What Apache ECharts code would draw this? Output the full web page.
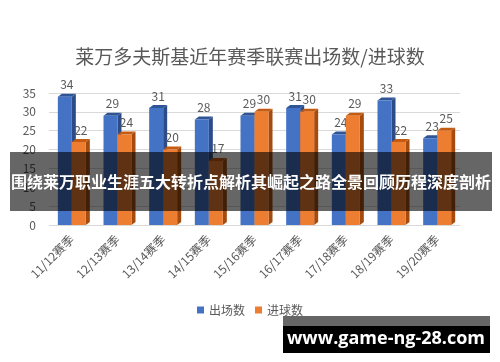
<!DOCTYPE html>
<html><head><meta charset="utf-8">
<script src="https://cdn.jsdelivr.net/npm/echarts@6/dist/echarts.min.js"></script>
<style>html,body{margin:0;padding:0;background:#fff}#c{width:500px;height:362px}</style>
</head><body><div id="c"></div>
<script>
var categories = ['11/12赛季','12/13赛季','13/14赛季','14/15赛季','15/16赛季','16/17赛季','17/18赛季','18/19赛季','19/20赛季'];
var appearances = [34, 29, 31, 28, 29, 31, 24, 33, 23];
var goals = [22, 24, 20, 17, 30, 30, 29, 22, 25];
var yTicks = [0, 5, 10, 15, 20, 25, 30, 35];

var FONT = '"Noto Sans CJK SC", "Noto Sans", sans-serif';
var chart = echarts.init(document.getElementById('c'));

function bar3d(offset, front, top, side) {
  return function (params, api) {
    var idx = api.value(0), v = api.value(1);
    var pTop = api.coord([idx, v]);
    var pBase = api.coord([idx, 0]);
    var w = 14, d = 4, d2 = 3;
    var x0 = pTop[0] + offset - w / 2;
    var yT = pTop[1], yB = pBase[1];
    return {
      type: 'group',
      children: [
        { type: 'polygon', shape: { points: [[x0 + w, yT], [x0 + w + d, yT - d2], [x0 + w + d, yB - d2], [x0 + w, yB]] }, style: { fill: side } },
        { type: 'polygon', shape: { points: [[x0, yT], [x0 + d, yT - d2], [x0 + w + d, yT - d2], [x0 + w, yT]] }, style: { fill: top } },
        { type: 'rect', shape: { x: x0, y: yT, width: w, height: yB - yT }, style: { fill: front } },
        { type: 'text', style: { text: String(v), x: x0 + w / 2 + 2, y: yT - 12, align: 'center', verticalAlign: 'middle', fill: '#595959', font: '12px ' + FONT } }
      ]
    };
  };
}

chart.setOption({
  animation: false,
  title: {
    text: '莱万多夫斯基近年赛季联赛出场数/进球数',
    left: 'center', top: 42,
    textStyle: { fontFamily: FONT, fontSize: 19, fontWeight: 'normal', color: '#595959' }
  },
  legend: {
    top: 299, left: 'center', icon: 'rect', itemWidth: 7, itemHeight: 7, itemGap: 10,
    textStyle: { fontFamily: FONT, fontSize: 12, color: '#595959' },
    data: ['出场数', '进球数']
  },
  grid: { left: 49, right: 40, top: 93, bottom: 137 },
  xAxis: {
    type: 'category', data: categories,
    axisLine: { show: false }, axisTick: { show: false },
    axisLabel: { rotate: 45, interval: 0, margin: 12, fontFamily: FONT, fontSize: 12, color: '#595959' }
  },
  yAxis: {
    type: 'value', min: yTicks[0], max: yTicks[yTicks.length - 1], interval: 5,
    axisLine: { show: false }, axisTick: { show: false },
    axisLabel: { margin: 13, fontFamily: FONT, fontSize: 12, color: '#595959' },
    splitLine: { lineStyle: { color: '#d9d9d9' } }
  },
  series: [
    { name: '出场数', type: 'custom', itemStyle: { color: '#4472C4' },
      data: appearances.map(function (v, i) { return [i, v]; }),
      encode: { x: 0, y: 1 },
      renderItem: bar3d(-7, '#4472C4', '#2F5597', '#2B4C88') },
    { name: '进球数', type: 'custom', itemStyle: { color: '#ED7D31' },
      data: goals.map(function (v, i) { return [i, v]; }),
      encode: { x: 0, y: 1 },
      renderItem: bar3d(7, '#ED7D31', '#C55A11', '#A64B0E') }
  ],
  graphic: [
    { type: 'rect', z: 100, shape: { x: 10, y: 152, width: 482, height: 59 }, style: { fill: 'rgba(0,0,0,0.6)' } },
    { type: 'text', z: 101, style: { text: '围绕莱万职业生涯五大转折点解析其崛起之路全景回顾历程深度剖析', x: 251, y: 182, align: 'center', verticalAlign: 'middle', fill: '#fff', font: 'bold 16px ' + FONT } },
    { type: 'rect', z: 100, shape: { x: 283, y: 316, width: 207, height: 10 }, style: { fill: '#666' } },
    { type: 'rect', z: 100, shape: { x: 283, y: 326, width: 207, height: 27 }, style: { fill: '#000' } },
    { type: 'text', z: 101, style: { text: 'www.game-ng-28.com', x: 386, y: 339, align: 'center', verticalAlign: 'middle', fill: '#fff', font: 'bold 18px "Open Sans", "DejaVu Sans", sans-serif' } }
  ]
});
</script></body></html>
